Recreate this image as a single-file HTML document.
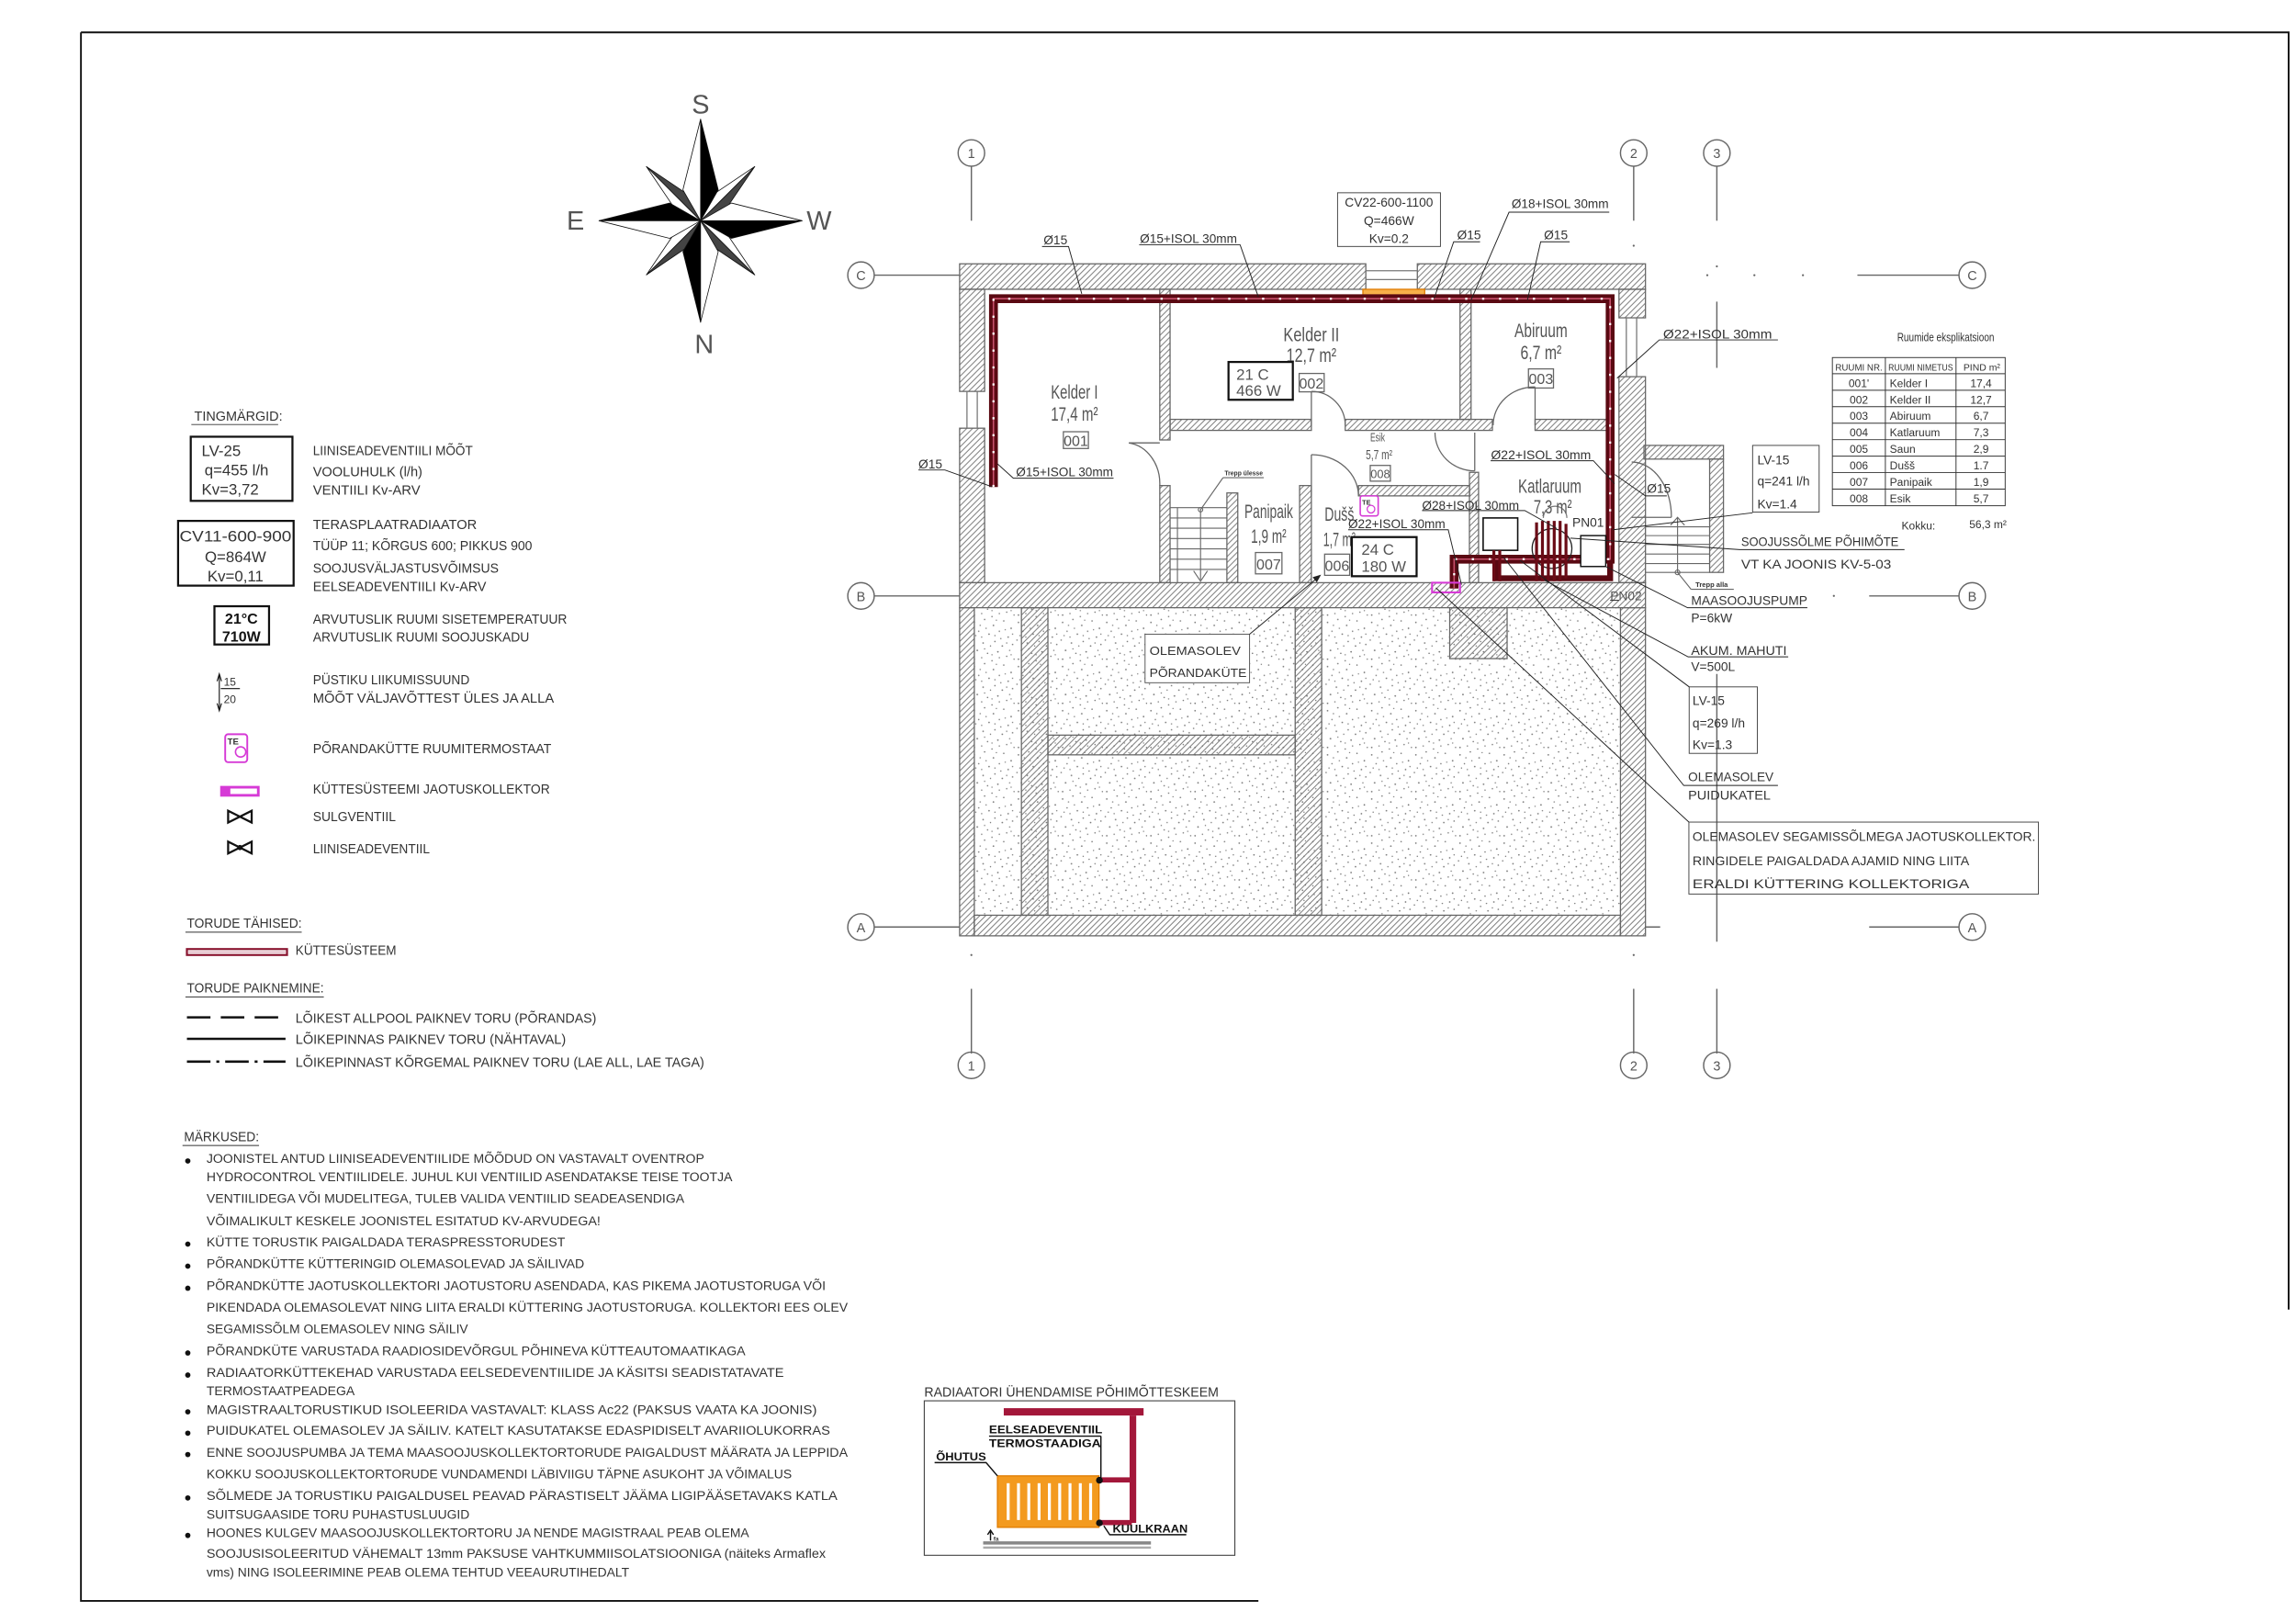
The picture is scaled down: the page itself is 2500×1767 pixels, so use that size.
<!DOCTYPE html>
<html><head><meta charset="utf-8"><style>
html,body{margin:0;padding:0;background:#fff;}
svg{display:block;}
text{font-family:"Liberation Sans",sans-serif;fill:#333;}
.s{font-size:8.6px;}
.g{fill:#555;}
</style></head><body>
<svg width="2500" height="1767" viewBox="0 0 1560 1103" preserveAspectRatio="none" xmlns="http://www.w3.org/2000/svg">
<defs>
<pattern id="h" patternUnits="userSpaceOnUse" width="4" height="4"><path d="M-1,1 L1,-1 M0,4 L4,0 M3,5 L5,3" stroke="#6a6a6a" stroke-width="0.55"/></pattern>
<pattern id="st" patternUnits="userSpaceOnUse" width="30" height="30">
<g fill="#777">
<circle cx="2" cy="3" r=".55"/><circle cx="9" cy="1" r=".5"/><circle cx="15" cy="5" r=".55"/><circle cx="22" cy="2" r=".5"/><circle cx="27" cy="7" r=".55"/>
<circle cx="5" cy="9" r=".5"/><circle cx="12" cy="11" r=".55"/><circle cx="19" cy="9" r=".5"/><circle cx="25" cy="13" r=".55"/><circle cx="1" cy="15" r=".5"/>
<circle cx="8" cy="17" r=".55"/><circle cx="16" cy="16" r=".5"/><circle cx="21" cy="19" r=".55"/><circle cx="28" cy="18" r=".5"/><circle cx="4" cy="22" r=".55"/>
<circle cx="11" cy="24" r=".5"/><circle cx="18" cy="23" r=".55"/><circle cx="24" cy="26" r=".5"/><circle cx="2" cy="28" r=".55"/><circle cx="14" cy="29" r=".5"/>
<circle cx="7" cy="13" r=".45"/><circle cx="20" cy="14" r=".45"/><circle cx="26" cy="22" r=".45"/><circle cx="13" cy="19" r=".45"/><circle cx="29" cy="28" r=".45"/>
<circle cx="6" cy="5" r=".45"/><circle cx="17" cy="1.5" r=".45"/><circle cx="23" cy="8" r=".45"/><circle cx="10" cy="7" r=".45"/><circle cx="3" cy="12" r=".45"/>
<circle cx="16" cy="12" r=".45"/><circle cx="28" cy="11" r=".45"/><circle cx="9" cy="21" r=".45"/><circle cx="24" cy="17" r=".45"/><circle cx="19" cy="27" r=".45"/>
<circle cx="7" cy="27" r=".45"/><circle cx="27" cy="25" r=".45"/><circle cx="14" cy="25" r=".45"/>
</g></pattern>
</defs>

<!-- border -->
<g stroke="#111" stroke-width="1.2" fill="none">
<path d="M55,22 H1555 V890"/><path d="M55,22 V1088 H855"/>
</g>

<!-- compass -->
<g stroke="#111" stroke-width="0.5" stroke-linejoin="round">
<polygon points="476,150 439.2,113.2 469.6,133.7" fill="#444"/><polygon points="476,150 439.2,113.2 459.7,143.6" fill="#fff"/>
<polygon points="476,150 512.8,113.2 492.2,143.6" fill="#444"/><polygon points="476,150 512.8,113.2 482.3,133.7" fill="#fff"/>
<polygon points="476,150 439.2,186.8 469.6,166.2" fill="#444"/><polygon points="476,150 439.2,186.8 459.7,156.4" fill="#fff"/>
<polygon points="476,150 512.8,186.8 482.3,166.2" fill="#444"/><polygon points="476,150 512.8,186.8 492.2,156.4" fill="#fff"/>
<polygon points="476,150 476,81 488,129" fill="#000"/><polygon points="476,150 476,81 464,129" fill="#fff"/>
<polygon points="476,150 476,219 464,171" fill="#000"/><polygon points="476,150 476,219 488,171" fill="#fff"/>
<polygon points="476,150 407,150 455,138" fill="#000"/><polygon points="476,150 407,150 455,162" fill="#fff"/>
<polygon points="476,150 545,150 497,162" fill="#000"/><polygon points="476,150 545,150 497,138" fill="#fff"/>
</g>
<text x="470" y="77" style="fill:#555" font-size="18">S</text>
<text x="472" y="240" style="fill:#555" font-size="18">N</text>
<text x="385" y="156" style="fill:#555" font-size="18">E</text>
<text x="548" y="156" style="fill:#555" font-size="18">W</text>

<!-- grid axes -->
<g stroke="#666" stroke-width="0.9" fill="none">
<line x1="660" y1="113" x2="660" y2="150"/><line x1="660" y1="672" x2="660" y2="716"/>
<line x1="1110" y1="113" x2="1110" y2="150"/><line x1="1110" y1="672" x2="1110" y2="716"/>
<line x1="1166.5" y1="113" x2="1166.5" y2="150"/><line x1="1166.5" y1="205" x2="1166.5" y2="250"/><line x1="1166.5" y1="458" x2="1166.5" y2="640"/><line x1="1166.5" y1="672" x2="1166.5" y2="716"/>
<line x1="594" y1="187" x2="652" y2="187"/><line x1="594" y1="405" x2="652" y2="405"/><line x1="594" y1="630" x2="652" y2="630"/>
<line x1="1262" y1="187" x2="1331" y2="187"/><line x1="1270" y1="405" x2="1331" y2="405"/><line x1="1270" y1="630" x2="1331" y2="630"/>
<line x1="1118" y1="630" x2="1128" y2="630"/>
<circle cx="660" cy="104" r="9"/><circle cx="1110" cy="104" r="9"/><circle cx="1166.5" cy="104" r="9"/>
<circle cx="660" cy="724" r="9"/><circle cx="1110" cy="724" r="9"/><circle cx="1166.5" cy="724" r="9"/>
<circle cx="585" cy="187" r="9"/><circle cx="585" cy="405" r="9"/><circle cx="585" cy="630" r="9"/>
<circle cx="1340" cy="187" r="9"/><circle cx="1340" cy="405" r="9"/><circle cx="1340" cy="630" r="9"/>
</g>
<g fill="#666"><circle cx="1160" cy="187" r=".7"/><circle cx="1192" cy="187" r=".7"/><circle cx="1225" cy="187" r=".7"/><circle cx="1246" cy="405" r=".7"/><circle cx="660" cy="649" r=".7"/><circle cx="1110" cy="649" r=".7"/><circle cx="1110" cy="167" r=".7"/><circle cx="1166.5" cy="181" r=".7"/></g>
<g font-size="9" text-anchor="middle">
<text x="660" y="107.5" class="g">1</text><text x="1110" y="107.5" class="g">2</text><text x="1166.5" y="107.5" class="g">3</text>
<text x="660" y="727.5" class="g">1</text><text x="1110" y="727.5" class="g">2</text><text x="1166.5" y="727.5" class="g">3</text>
<text x="585" y="190.5" class="g">C</text><text x="585" y="408.5" class="g">B</text><text x="585" y="633.5" class="g">A</text>
<text x="1340" y="190.5" class="g">C</text><text x="1340" y="408.5" class="g">B</text><text x="1340" y="633.5" class="g">A</text>
</g>

<!-- lower stipple -->
<rect x="662" y="413" width="439" height="209" fill="url(#st)"/>

<!-- walls -->
<g fill="url(#h)" stroke="#666" stroke-width="0.8">
<rect x="652" y="179.3" width="276" height="17.3"/>
<rect x="963" y="179.3" width="155" height="17.3"/>
<rect x="652" y="196.6" width="17" height="69.4"/>
<rect x="652" y="291" width="17" height="105"/>
<rect x="1100" y="196.6" width="18" height="19.4"/>
<rect x="1100" y="256" width="18" height="140"/>
<rect x="652" y="396" width="466" height="17"/>
<rect x="652" y="413" width="10" height="223"/>
<rect x="1101" y="413" width="17" height="223"/>
<rect x="662" y="622" width="439" height="14"/>
<rect x="694" y="413" width="18" height="209"/>
<rect x="880" y="413" width="18" height="209"/>
<rect x="712" y="499.6" width="168" height="13.4"/>
<rect x="985" y="413" width="39" height="34.6"/>
<rect x="788" y="196.6" width="7" height="102.4"/>
<rect x="788" y="330" width="7" height="66"/>
<rect x="795" y="285" width="96" height="7.5"/>
<rect x="914" y="285" width="100" height="7.5"/>
<rect x="1043" y="285" width="49" height="7.5"/>
<rect x="992" y="196.6" width="7.5" height="88.4"/>
<rect x="998.4" y="321" width="6.2" height="75"/>
<rect x="923" y="330" width="75.5" height="7"/>
<rect x="883" y="330" width="8" height="66"/>
<rect x="833.6" y="335" width="7.4" height="61"/>
<rect x="1117" y="302.7" width="54" height="9.3"/>
<rect x="1161.6" y="312" width="9.4" height="77"/>
</g>
<!-- windows -->
<g stroke="#777" stroke-width="0.8">
<line x1="928" y1="184" x2="963" y2="184"/><line x1="928" y1="190" x2="963" y2="190"/>
<line x1="657" y1="266" x2="657" y2="291"/><line x1="664" y1="266" x2="664" y2="291"/>
<line x1="1105" y1="216" x2="1105" y2="256"/><line x1="1112" y1="216" x2="1112" y2="256"/>
</g>
<!-- doors -->
<g stroke="#666" stroke-width="0.8" fill="none">
<path d="M767,301 A24,28 0 0 1 788,330"/><line x1="767" y1="301" x2="788" y2="301"/>
<path d="M891,266 A23,23 0 0 1 914,289"/><line x1="891" y1="266" x2="891" y2="289"/>
<path d="M1043,263 A28,26 0 0 0 1014.5,289"/><line x1="1043" y1="263" x2="1043" y2="289"/>
<path d="M975,294 A27,26 0 0 0 1002,320"/><line x1="1002" y1="294" x2="1002" y2="320"/>
<path d="M891,309 A32,28 0 0 1 923,337"/><line x1="891" y1="309" x2="891" y2="337"/>
<path d="M1108.6,314 A27,37 0 0 1 1135.6,351.6"/><line x1="1108.6" y1="351.6" x2="1135.6" y2="351.6"/>
</g>
<!-- stairs -->
<g stroke="#666" stroke-width="0.7" fill="none">
<line x1="795" y1="345" x2="833.6" y2="345"/><line x1="795" y1="352" x2="833.6" y2="352"/><line x1="795" y1="359" x2="833.6" y2="359"/><line x1="795" y1="366" x2="833.6" y2="366"/><line x1="795" y1="373" x2="833.6" y2="373"/><line x1="795" y1="380" x2="833.6" y2="380"/><line x1="795" y1="387" x2="833.6" y2="387"/>
<line x1="800" y1="345" x2="800" y2="396"/><line x1="815.7" y1="346" x2="815.7" y2="394"/><path d="M811,388 L815.7,395 L820.4,388"/>
<circle cx="815.7" cy="346.4" r="1.5"/><line x1="815.7" y1="346.4" x2="831" y2="324.6"/><line x1="831" y1="324.6" x2="858.7" y2="324.6"/>
<line x1="1118" y1="358" x2="1161.6" y2="358"/><line x1="1118" y1="364" x2="1161.6" y2="364"/><line x1="1118" y1="370" x2="1161.6" y2="370"/><line x1="1118" y1="376.5" x2="1161.6" y2="376.5"/><line x1="1118" y1="383" x2="1161.6" y2="383"/><line x1="1118" y1="389" x2="1161.6" y2="389"/>
<line x1="1139.8" y1="352" x2="1139.8" y2="389"/><path d="M1135,357 L1139.8,351.6 L1144.6,357"/><circle cx="1139.8" cy="389" r="1.6"/>
<line x1="1139.8" y1="389" x2="1149" y2="400.5"/><line x1="1149" y1="400.5" x2="1178" y2="400.5"/>
</g>

<!-- plan radiator -->
<rect x="926" y="196.6" width="42" height="4.8" fill="#f7b04a" stroke="#e07b00" stroke-width="0.8"/>

<!-- pipes -->
<g fill="none" stroke-linejoin="miter">
<path d="M675,331 V203 H1094 V380 H988 V400" stroke="#5a0912" stroke-width="6"/>
<path d="M1017,380 V393 H1094 V380" stroke="#5a0912" stroke-width="4"/>
<path d="M675,331 V203 H1094 V380 H988 V400" stroke="#c4506a" stroke-width="1"/>
<path d="M675,331 V203 H1094 V380 H988 V400" stroke="#fff" stroke-width="1.4" stroke-dasharray="1.5 10"/>
</g>
<!-- boiler room equipment -->
<rect x="1007.7" y="352" width="23.5" height="22" fill="#fff" stroke="#111" stroke-width="1"/>
<rect x="1074" y="364" width="17" height="21" fill="#fff" stroke="#111" stroke-width="0.9"/>
<circle cx="1054.5" cy="372.8" r="13.5" fill="none" stroke="#222" stroke-width="0.8"/>
<path d="M1048.6,352 A8,8 0 0 1 1064.6,352" fill="none" stroke="#777" stroke-width="0.8"/>
<g stroke="#6a0b16" stroke-width="2">
<line x1="1044" y1="355" x2="1044" y2="395"/><line x1="1048" y1="354" x2="1048" y2="395"/><line x1="1052" y1="354" x2="1052" y2="395"/><line x1="1056" y1="354" x2="1056" y2="395"/><line x1="1060" y1="354" x2="1060" y2="395"/><line x1="1064" y1="356" x2="1064" y2="393"/>
<line x1="1015" y1="374" x2="1015" y2="395"/><line x1="1019" y1="374" x2="1019" y2="395"/>
</g>
<rect x="973" y="396" width="19" height="6.6" fill="none" stroke="#d63ad6" stroke-width="1.3"/>
<rect x="924.2" y="337" width="12.2" height="13.6" rx="1.5" fill="none" stroke="#d63ad6" stroke-width="1"/>
<circle cx="931.5" cy="346" r="2.6" fill="none" stroke="#d63ad6" stroke-width=".8"/>
<text x="925.5" y="343" font-size="4.5" font-weight="bold">TE</text>

<!-- room labels -->
<g class="g" text-anchor="middle" fill="#555">
<text x="730" y="271" font-size="13" class="g" textLength="32" lengthAdjust="spacingAndGlyphs">Kelder I</text>
<text x="730" y="286" font-size="13" class="g" textLength="32" lengthAdjust="spacingAndGlyphs">17,4 m²</text>
<text x="891" y="232" font-size="13" class="g" textLength="38" lengthAdjust="spacingAndGlyphs">Kelder II</text>
<text x="891" y="246" font-size="13" class="g" textLength="34" lengthAdjust="spacingAndGlyphs">12,7 m²</text>
<text x="1047" y="229" font-size="13" class="g" textLength="36" lengthAdjust="spacingAndGlyphs">Abiruum</text>
<text x="1047" y="244" font-size="13" class="g" textLength="28" lengthAdjust="spacingAndGlyphs">6,7 m²</text>
<text x="936" y="300" font-size="8" class="g" textLength="10" lengthAdjust="spacingAndGlyphs">Esik</text>
<text x="937" y="312" font-size="9" class="g" textLength="18" lengthAdjust="spacingAndGlyphs">5,7 m²</text>
<text x="862" y="352" font-size="13" class="g" textLength="33" lengthAdjust="spacingAndGlyphs">Panipaik</text>
<text x="862" y="369" font-size="13" class="g" textLength="24" lengthAdjust="spacingAndGlyphs">1,9 m²</text>
<text x="910" y="354" font-size="13" class="g" textLength="20" lengthAdjust="spacingAndGlyphs">Dušš</text>
<text x="910" y="371" font-size="13" class="g" textLength="22" lengthAdjust="spacingAndGlyphs">1,7 m²</text>
<text x="1053" y="335" font-size="13" class="g" textLength="43" lengthAdjust="spacingAndGlyphs">Katlaruum</text>
<text x="1055" y="349" font-size="13" class="g" textLength="26" lengthAdjust="spacingAndGlyphs">7,3 m²</text>
</g>
<g fill="none" stroke="#666" stroke-width="0.8">
<rect x="722.5" y="293.4" width="17" height="11.4"/><rect x="882.7" y="253.8" width="17" height="12.5"/><rect x="1038.5" y="250.7" width="17" height="13"/>
<rect x="931" y="316.3" width="13.7" height="10.7"/><rect x="853" y="375.5" width="18" height="14.5"/><rect x="900" y="376.6" width="17" height="14.4"/>
</g>
<g text-anchor="middle" font-size="9" >
<text x="731" y="303" class="g" font-size="10">001</text><text x="891" y="264" class="g" font-size="10">002</text><text x="1047" y="261" class="g" font-size="10">003</text>
<text x="937.8" y="325" class="g" font-size="8">008</text><text x="862" y="387" class="g" font-size="10">007</text><text x="908.5" y="388" class="g" font-size="10">006</text>
</g>
<rect x="834.7" y="246" width="43.7" height="25.7" fill="#fff" stroke="#111" stroke-width="1.4"/>
<text x="840" y="258" font-size="10.5" class="g">21  C</text><text x="840" y="269" font-size="10.5" class="g">466  W</text>
<rect x="918.5" y="365" width="44" height="26.6" fill="#fff" stroke="#111" stroke-width="1.4"/>
<text x="925" y="377" font-size="10.5" class="g">24  C</text><text x="925" y="388.5" font-size="10.5" class="g">180  W</text>

<!-- leaders & pipe labels -->
<g stroke="#222" stroke-width="0.6" fill="none">
<path d="M708,167.5 H726 L735,199.7"/>
<path d="M774,166.4 H842.6 L855,201.8"/>
<rect x="908.8" y="131" width="69.9" height="36.5" stroke="#444"/>
<path d="M1005.6,164.3 H987.7 L974.4,202.8"/>
<path d="M1093.4,144.2 H1025.3 L999.5,203.9"/>
<path d="M1066.5,164.3 H1046.8 L1037.8,203.9"/>
<path d="M1208,231 H1127.4 L1098.7,257"/>
<path d="M624,319.4 H642 L674,330.8"/>
<path d="M756.6,325 H688.5 L677.7,315.2"/>
<path d="M1012.8,313.1 H1082.6 L1097,328.7"/>
<path d="M966.2,347 H1036 L1057.5,359"/>
<path d="M916,360 H984 L993,397.4"/>
<path d="M1132.5,337 H1118 L1097.2,322.5"/>
<rect x="1190.8" y="302.7" width="45.2" height="45.3" stroke="#444"/>
<path d="M1190.8,348.5 L1096,360"/>
<path d="M1294,373.5 H1182 L1067,365.7"/>
<path d="M1228,413 H1146.6 L1091,385"/>
<path d="M1215,446.4 H1147 L1049.4,394.3"/>
<rect x="1147.7" y="466.8" width="46.3" height="45.2" stroke="#444"/>
<path d="M1147.7,466.8 L1032.7,380.8"/>
<path d="M1208,533.8 H1144 L1021.5,378.7"/>
<rect x="1147.5" y="558.7" width="237.5" height="48.9" stroke="#444"/>
<path d="M1147.5,558.7 L975.6,399.5"/>
<rect x="778" y="431" width="71" height="33" fill="#fff" stroke="#555"/>
<path d="M849,431 L896,392"/><path d="M892,392.5 L897,391 L894.5,395.5" fill="#222"/>
<path d="M1094,408 H1100"/>
</g>
<g font-size="8.6">
<text x="709" y="166">Ø15</text>
<text x="774.5" y="165" textLength="66" lengthAdjust="spacingAndGlyphs">Ø15+ISOL 30mm</text>
<text x="943.7" y="140.5" text-anchor="middle" textLength="60" lengthAdjust="spacingAndGlyphs">CV22-600-1100</text>
<text x="943.7" y="153" text-anchor="middle">Q=466W</text>
<text x="943.7" y="165" text-anchor="middle">Kv=0.2</text>
<text x="990" y="162.5">Ø15</text>
<text x="1027" y="141.5" textLength="66" lengthAdjust="spacingAndGlyphs">Ø18+ISOL 30mm</text>
<text x="1049" y="162.5">Ø15</text>
<text x="1130" y="230" textLength="74" lengthAdjust="spacingAndGlyphs">Ø22+ISOL 30mm</text>
<text x="624" y="318.4">Ø15</text>
<text x="690.3" y="323.6" textLength="66" lengthAdjust="spacingAndGlyphs">Ø15+ISOL 30mm</text>
<text x="1013" y="312.2" textLength="68" lengthAdjust="spacingAndGlyphs">Ø22+ISOL 30mm</text>
<text x="966.2" y="346.5" textLength="66" lengthAdjust="spacingAndGlyphs">Ø28+ISOL 30mm</text>
<text x="916" y="359" textLength="66" lengthAdjust="spacingAndGlyphs">Ø22+ISOL 30mm</text>
<text x="1068.3" y="358">PN01</text>
<text x="1094" y="408" class="g">PN02</text>
<text x="1119" y="335">Ø15</text>
<text x="832" y="323" font-size="4.5" font-weight="bold" textLength="26" lengthAdjust="spacingAndGlyphs">Trepp ülesse</text>
<text x="1152" y="399" font-size="4.5" font-weight="bold" textLength="22" lengthAdjust="spacingAndGlyphs">Trepp alla</text>
<text x="1194" y="315.5">LV-15</text>
<text x="1194" y="330">q=241 l/h</text>
<text x="1194" y="345.5">Kv=1.4</text>
<text x="1183" y="371" textLength="107" lengthAdjust="spacingAndGlyphs">SOOJUSSÕLME PÕHIMÕTE</text>
<text x="1183" y="386.5" textLength="102" lengthAdjust="spacingAndGlyphs">VT KA JOONIS KV-5-03</text>
<text x="1149" y="411" textLength="79" lengthAdjust="spacingAndGlyphs">MAASOOJUSPUMP</text>
<text x="1149" y="423">P=6kW</text>
<text x="1149" y="445" textLength="65" lengthAdjust="spacingAndGlyphs">AKUM. MAHUTI</text>
<text x="1149" y="456">V=500L</text>
<text x="1150" y="479">LV-15</text>
<text x="1150" y="494.5">q=269 l/h</text>
<text x="1150" y="509">Kv=1.3</text>
<text x="1147" y="531" textLength="58" lengthAdjust="spacingAndGlyphs">OLEMASOLEV</text>
<text x="1147" y="543.5" textLength="56" lengthAdjust="spacingAndGlyphs">PUIDUKATEL</text>
<text x="1150" y="571.5" textLength="233" lengthAdjust="spacingAndGlyphs">OLEMASOLEV SEGAMISSÕLMEGA JAOTUSKOLLEKTOR.</text>
<text x="1150" y="588" textLength="188" lengthAdjust="spacingAndGlyphs">RINGIDELE PAIGALDADA AJAMID NING LIITA</text>
<text x="1150" y="603.5" textLength="188" lengthAdjust="spacingAndGlyphs">ERALDI KÜTTERING KOLLEKTORIGA</text>
<text x="781" y="445" font-size="8" textLength="62" lengthAdjust="spacingAndGlyphs">OLEMASOLEV</text>
<text x="781" y="460" font-size="8" textLength="66" lengthAdjust="spacingAndGlyphs">PÕRANDAKÜTE</text>
</g>

<!-- room table -->
<text x="1322" y="232" font-size="8" text-anchor="middle" textLength="66" lengthAdjust="spacingAndGlyphs">Ruumide eksplikatsioon</text>
<g stroke="#333" stroke-width="0.6" fill="none">
<rect x="1245" y="243" width="117.4" height="100.7"/>
<line x1="1281" y1="243" x2="1281" y2="343.7"/><line x1="1329" y1="243" x2="1329" y2="343.7"/>
<line x1="1245" y1="254" x2="1362.4" y2="254"/><line x1="1245" y1="265.2" x2="1362.4" y2="265.2"/><line x1="1245" y1="276.4" x2="1362.4" y2="276.4"/><line x1="1245" y1="287.6" x2="1362.4" y2="287.6"/><line x1="1245" y1="298.8" x2="1362.4" y2="298.8"/><line x1="1245" y1="310" x2="1362.4" y2="310"/><line x1="1245" y1="321.2" x2="1362.4" y2="321.2"/><line x1="1245" y1="332.4" x2="1362.4" y2="332.4"/>
</g>
<g font-size="7.5">
<text x="1247" y="252" font-size="6.5" textLength="32" lengthAdjust="spacingAndGlyphs">RUUMI NR.</text>
<text x="1283" y="252" font-size="6.5" textLength="44" lengthAdjust="spacingAndGlyphs">RUUMI NIMETUS</text>
<text x="1334" y="252" font-size="6.5" textLength="25" lengthAdjust="spacingAndGlyphs">PIND m²</text>
<g text-anchor="middle">
<text x="1263" y="263">001'</text><text x="1263" y="274.2">002</text><text x="1263" y="285.4">003</text><text x="1263" y="296.6">004</text><text x="1263" y="307.8">005</text><text x="1263" y="319">006</text><text x="1263" y="330.2">007</text><text x="1263" y="341.4">008</text>
<text x="1346" y="263">17,4</text><text x="1346" y="274.2">12,7</text><text x="1346" y="285.4">6,7</text><text x="1346" y="296.6">7,3</text><text x="1346" y="307.8">2,9</text><text x="1346" y="319">1.7</text><text x="1346" y="330.2">1,9</text><text x="1346" y="341.4">5,7</text>
</g>
<text x="1284" y="263">Kelder I</text><text x="1284" y="274.2">Kelder II</text><text x="1284" y="285.4">Abiruum</text><text x="1284" y="296.6">Katlaruum</text><text x="1284" y="307.8">Saun</text><text x="1284" y="319">Dušš</text><text x="1284" y="330.2">Panipaik</text><text x="1284" y="341.4">Esik</text>
<text x="1292" y="360">Kokku:</text><text x="1338" y="359">56,3 m²</text>
</g>

<!-- legend -->
<text x="132" y="286" font-size="9">TINGMÄRGID:</text><line x1="130" y1="288.5" x2="189" y2="288.5" stroke="#333" stroke-width="0.6"/>
<rect x="129.6" y="296.8" width="69.1" height="43.6" fill="none" stroke="#111" stroke-width="1.4"/>
<text x="137" y="310" font-size="10.5">LV-25</text><text x="139" y="323" font-size="10.5">q=455 l/h</text><text x="137" y="336" font-size="10.5">Kv=3,72</text>
<rect x="121" y="354" width="78.5" height="44" fill="none" stroke="#111" stroke-width="1.4"/>
<text x="160" y="368" font-size="10.5" text-anchor="middle" textLength="76" lengthAdjust="spacingAndGlyphs">CV11-600-900</text><text x="160" y="382" font-size="10.5" text-anchor="middle">Q=864W</text><text x="160" y="395" font-size="10.5" text-anchor="middle">Kv=0,11</text>
<rect x="145.7" y="412" width="37.1" height="26" fill="none" stroke="#111" stroke-width="1.4"/>
<text x="164" y="424" font-size="10" font-weight="bold" text-anchor="middle" style="fill:#111">21°C</text><text x="164" y="436" font-size="10" font-weight="bold" text-anchor="middle" style="fill:#111">710W</text>
<g stroke="#111" stroke-width="0.7" fill="none"><line x1="149" y1="459" x2="149" y2="482"/><path d="M147.5,463 L149,458 L150.5,463"/><path d="M147.5,478 L149,483 L150.5,478"/><line x1="150" y1="468" x2="163" y2="468"/></g>
<text x="152" y="466" font-size="7.5">15</text><text x="152" y="478" font-size="7.5">20</text>
<rect x="153" y="499" width="15" height="19" rx="2" fill="none" stroke="#d63ad6" stroke-width="1.2"/><circle cx="163.5" cy="511" r="3.5" fill="none" stroke="#d63ad6" stroke-width="1"/><text x="154.5" y="506" font-size="6" font-weight="bold">TE</text>
<rect x="150.5" y="535" width="25" height="5.5" fill="#fff" stroke="#d63ad6" stroke-width="1.8"/><rect x="150.5" y="535" width="6" height="5.5" fill="#d63ad6"/>
<g stroke="#111" stroke-width="1.4" fill="none"><path d="M155,551 V559 L171,551 V559 Z"/><path d="M155,572 V580 L171,572 V580 Z"/></g>
<circle cx="163" cy="576" r="1.8" fill="#111"/>
<g font-size="9">
<text x="212.6" y="309.4" textLength="108.6" lengthAdjust="spacingAndGlyphs">LIINISEADEVENTIILI MÕÕT</text>
<text x="212.6" y="323.6" textLength="74.4" lengthAdjust="spacingAndGlyphs">VOOLUHULK (l/h)</text>
<text x="212.6" y="336.3" textLength="73" lengthAdjust="spacingAndGlyphs">VENTIILI Kv-ARV</text>
<text x="212.6" y="359.5" textLength="111.4" lengthAdjust="spacingAndGlyphs">TERASPLAATRADIAATOR</text>
<text x="212.6" y="374" textLength="149" lengthAdjust="spacingAndGlyphs">TÜÜP 11; KÕRGUS 600; PIKKUS 900</text>
<text x="212.6" y="389.3" textLength="126.2" lengthAdjust="spacingAndGlyphs">SOOJUSVÄLJASTUSVÕIMSUS</text>
<text x="212.6" y="401.8" textLength="117.8" lengthAdjust="spacingAndGlyphs">EELSEADEVENTIILI Kv-ARV</text>
<text x="212.6" y="423.7" textLength="172.7" lengthAdjust="spacingAndGlyphs">ARVUTUSLIK RUUMI SISETEMPERATUUR</text>
<text x="212.6" y="436" textLength="147" lengthAdjust="spacingAndGlyphs">ARVUTUSLIK RUUMI SOOJUSKADU</text>
<text x="212.6" y="464.9" textLength="106.4" lengthAdjust="spacingAndGlyphs">PÜSTIKU LIIKUMISSUUND</text>
<text x="212.6" y="477.4" textLength="163.8" lengthAdjust="spacingAndGlyphs">MÕÕT VÄLJAVÕTTEST ÜLES JA ALLA</text>
<text x="212.6" y="512" textLength="162" lengthAdjust="spacingAndGlyphs">PÕRANDAKÜTTE RUUMITERMOSTAAT</text>
<text x="212.6" y="539.4" textLength="161" lengthAdjust="spacingAndGlyphs">KÜTTESÜSTEEMI JAOTUSKOLLEKTOR</text>
<text x="212.6" y="558" textLength="56.3" lengthAdjust="spacingAndGlyphs">SULGVENTIIL</text>
<text x="212.6" y="579.9" textLength="79.4" lengthAdjust="spacingAndGlyphs">LIINISEADEVENTIIL</text>
</g>

<!-- pipe legend -->
<g font-size="9">
<text x="127" y="630.5" textLength="78" lengthAdjust="spacingAndGlyphs">TORUDE TÄHISED:</text>
<text x="200.8" y="649" textLength="68.5" lengthAdjust="spacingAndGlyphs">KÜTTESÜSTEEM</text>
<text x="127" y="674.5" textLength="93" lengthAdjust="spacingAndGlyphs">TORUDE PAIKNEMINE:</text>
<text x="200.8" y="695" textLength="204.4" lengthAdjust="spacingAndGlyphs">LÕIKEST ALLPOOL PAIKNEV TORU (PÕRANDAS)</text>
<text x="200.8" y="709.5" textLength="183.7" lengthAdjust="spacingAndGlyphs">LÕIKEPINNAS PAIKNEV TORU (NÄHTAVAL)</text>
<text x="200.8" y="725" textLength="277.7" lengthAdjust="spacingAndGlyphs">LÕIKEPINNAST KÕRGEMAL PAIKNEV TORU (LAE ALL, LAE TAGA)</text>
<text x="125" y="775.5" textLength="51" lengthAdjust="spacingAndGlyphs">MÄRKUSED:</text>
</g>
<g stroke="#333" stroke-width="0.6"><line x1="126" y1="633.5" x2="205" y2="633.5"/><line x1="126" y1="677.5" x2="220" y2="677.5"/><line x1="124" y1="778.5" x2="176" y2="778.5"/></g>
<rect x="127" y="645" width="68" height="4" fill="#fff" stroke="#8a1530" stroke-width="1.4"/>
<line x1="128" y1="647" x2="194" y2="647" stroke="#d7a0b0" stroke-width="0.8"/>
<g stroke="#111" stroke-width="1.6"><line x1="127" y1="691.4" x2="194" y2="691.4" stroke-dasharray="16 7"/><line x1="127" y1="706" x2="194" y2="706"/><line x1="127" y1="721.5" x2="194" y2="721.5" stroke-dasharray="16 4 2 4"/></g>

<!-- notes -->
<g fill="#111"><circle cx="127.6" cy="789" r="1.8"/><circle cx="127.6" cy="845.5" r="1.8"/><circle cx="127.6" cy="860.5" r="1.8"/><circle cx="127.6" cy="875.5" r="1.8"/><circle cx="127.6" cy="919.5" r="1.8"/><circle cx="127.6" cy="934.5" r="1.8"/><circle cx="127.6" cy="959.5" r="1.8"/><circle cx="127.6" cy="974" r="1.8"/><circle cx="127.6" cy="988.5" r="1.8"/><circle cx="127.6" cy="1018" r="1.8"/><circle cx="127.6" cy="1043.5" r="1.8"/></g>
<g font-size="8.8">
<text x="140.3" y="790.2" textLength="338.2" lengthAdjust="spacingAndGlyphs">JOONISTEL ANTUD LIINISEADEVENTIILIDE MÕÕDUD ON VASTAVALT OVENTROP</text>
<text x="140.3" y="802.6" textLength="357.3" lengthAdjust="spacingAndGlyphs">HYDROCONTROL VENTIILIDELE. JUHUL KUI VENTIILID ASENDATAKSE TEISE TOOTJA</text>
<text x="140.3" y="817.4" textLength="324.7" lengthAdjust="spacingAndGlyphs">VENTIILIDEGA VÕI MUDELITEGA, TULEB VALIDA VENTIILID SEADEASENDIGA</text>
<text x="140.3" y="832.6" textLength="267.7" lengthAdjust="spacingAndGlyphs">VÕIMALIKULT KESKELE JOONISTEL ESITATUD KV-ARVUDEGA!</text>
<text x="140.3" y="847" textLength="243.7" lengthAdjust="spacingAndGlyphs">KÜTTE TORUSTIK PAIGALDADA TERASPRESSTORUDEST</text>
<text x="140.3" y="861.6" textLength="256.7" lengthAdjust="spacingAndGlyphs">PÕRANDKÜTTE KÜTTERINGID OLEMASOLEVAD JA SÄILIVAD</text>
<text x="140.3" y="876.6" textLength="420.7" lengthAdjust="spacingAndGlyphs">PÕRANDKÜTTE JAOTUSKOLLEKTORI JAOTUSTORU ASENDADA, KAS PIKEMA JAOTUSTORUGA VÕI</text>
<text x="140.3" y="891.4" textLength="435.7" lengthAdjust="spacingAndGlyphs">PIKENDADA OLEMASOLEVAT NING LIITA ERALDI KÜTTERING JAOTUSTORUGA. KOLLEKTORI EES OLEV</text>
<text x="140.3" y="906.2" textLength="177.7" lengthAdjust="spacingAndGlyphs">SEGAMISSÕLM OLEMASOLEV NING SÄILIV</text>
<text x="140.3" y="921" textLength="366.2" lengthAdjust="spacingAndGlyphs">PÕRANDKÜTE VARUSTADA RAADIOSIDEVÕRGUL PÕHINEVA KÜTTEAUTOMAATIKAGA</text>
<text x="140.3" y="935.6" textLength="392.3" lengthAdjust="spacingAndGlyphs">RADIAATORKÜTTEKEHAD VARUSTADA EELSEDEVENTIILIDE JA KÄSITSI SEADISTATAVATE</text>
<text x="140.3" y="948.2" textLength="100.7" lengthAdjust="spacingAndGlyphs">TERMOSTAATPEADEGA</text>
<text x="140.3" y="960.9" textLength="414.7" lengthAdjust="spacingAndGlyphs">MAGISTRAALTORUSTIKUD ISOLEERIDA VASTAVALT: KLASS Ac22 (PAKSUS VAATA KA JOONIS)</text>
<text x="140.3" y="975.1" textLength="423.7" lengthAdjust="spacingAndGlyphs">PUIDUKATEL OLEMASOLEV JA SÄILIV. KATELT KASUTATAKSE EDASPIDISELT AVARIIOLUKORRAS</text>
<text x="140.3" y="989.9" textLength="435.7" lengthAdjust="spacingAndGlyphs">ENNE SOOJUSPUMBA JA TEMA MAASOOJUSKOLLEKTORTORUDE PAIGALDUST MÄÄRATA JA LEPPIDA</text>
<text x="140.3" y="1004.6" textLength="397.7" lengthAdjust="spacingAndGlyphs">KOKKU SOOJUSKOLLEKTORTORUDE VUNDAMENDI LÄBIVIIGU TÄPNE ASUKOHT JA VÕIMALUS</text>
<text x="140.3" y="1019.5" textLength="428.7" lengthAdjust="spacingAndGlyphs">SÕLMEDE JA TORUSTIKU PAIGALDUSEL PEAVAD PÄRASTISELT JÄÄMA LIGIPÄÄSETAVAKS KATLA</text>
<text x="140.3" y="1032.2" textLength="178.7" lengthAdjust="spacingAndGlyphs">SUITSUGAASIDE TORU PUHASTUSLUUGID</text>
<text x="140.3" y="1044.6" textLength="368.7" lengthAdjust="spacingAndGlyphs">HOONES KULGEV MAASOOJUSKOLLEKTORTORU JA NENDE MAGISTRAAL PEAB OLEMA</text>
<text x="140.3" y="1058.6" textLength="420.7" lengthAdjust="spacingAndGlyphs">SOOJUSISOLEERITUD VÄHEMALT 13mm PAKSUSE VAHTKUMMIISOLATSIOONIGA (näiteks Armaflex</text>
<text x="140.3" y="1071.6" textLength="287.2" lengthAdjust="spacingAndGlyphs">vms) NING ISOLEERIMINE PEAB OLEMA TEHTUD VEEAURUTIHEDALT</text>
</g>

<!-- radiator schematic -->
<text x="628" y="949" font-size="9" textLength="200" lengthAdjust="spacingAndGlyphs">RADIAATORI ÜHENDAMISE PÕHIMÕTTESKEEM</text>
<rect x="628" y="952" width="211" height="105" fill="none" stroke="#444" stroke-width="0.7"/>
<rect x="682" y="957" width="95" height="5" fill="#a3173a"/>
<rect x="767.5" y="962" width="4.5" height="73" fill="#a3173a"/>
<rect x="747" y="1004" width="22" height="3.5" fill="#a3173a"/>
<rect x="747" y="1033" width="22" height="3.5" fill="#a3173a"/>
<rect x="677.7" y="1003" width="69" height="35" fill="#f39a1f" stroke="#e07b00" stroke-width="0.8"/>
<g fill="#fff"><rect x="684" y="1008" width="2" height="25"/><rect x="691" y="1008" width="2" height="25"/><rect x="698" y="1008" width="2" height="25"/><rect x="705" y="1008" width="2" height="25"/><rect x="712" y="1008" width="2" height="25"/><rect x="719" y="1008" width="2" height="25"/><rect x="726" y="1008" width="2" height="25"/><rect x="733" y="1008" width="2" height="25"/><rect x="740" y="1008" width="2" height="25"/></g>
<circle cx="747" cy="1006" r="2.3" fill="#111"/><circle cx="747" cy="1035" r="2.3" fill="#111"/>
<rect x="668" y="1047.5" width="114" height="2.2" fill="#888"/><rect x="668" y="1051" width="114" height="1.5" fill="#aaa"/>
<g stroke="#111" stroke-width="0.9" fill="none"><path d="M672,976 H748 M748,976 V1005"/><path d="M635,994 H670 L677.7,1003"/><path d="M750,1037 L754,1043 H806"/><path d="M673,1047 V1041 M671,1043 L673,1040 L675,1043"/></g>
<g font-weight="bold" font-size="7.5">
<text x="672" y="974" textLength="77" lengthAdjust="spacingAndGlyphs" style="fill:#111">EELSEADEVENTIIL</text>
<text x="672" y="983.5" textLength="76" lengthAdjust="spacingAndGlyphs" style="fill:#111">TERMOSTAADIGA</text>
<text x="636" y="992.5" textLength="34" lengthAdjust="spacingAndGlyphs" style="fill:#111">ÕHUTUS</text>
<text x="756" y="1041.5" textLength="51" lengthAdjust="spacingAndGlyphs" style="fill:#111">KUULKRAAN</text>
<text x="675" y="1047" font-size="4">fa</text>
</g>
</svg>
</body></html>
